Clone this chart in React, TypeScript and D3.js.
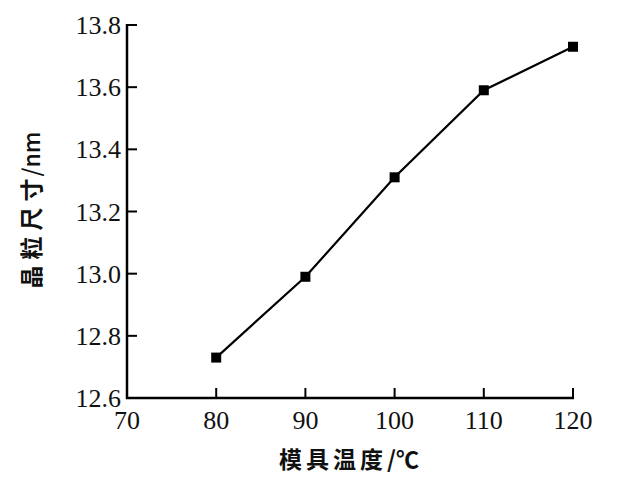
import React from "react";
import * as d3 from "d3";

const temps = [80, 90, 100, 110, 120];
const grainSize = [12.73, 12.99, 13.31, 13.59, 13.73];
const xTicks = [70, 80, 90, 100, 110, 120];
const yTicks = [12.6, 12.8, 13.0, 13.2, 13.4, 13.6, 13.8];
const xLabelCjk = "模具温度";
const xLabelUnit = "/℃";
const yLabelCjk = "晶粒尺寸";
const yLabelUnit = "/nm";

const W = 638;
const H = 484;
const left = 127;
const right = 573;
const top = 25;
const bottom = 398;

export default function App() {
  const x = d3.scaleLinear().domain([70, 120]).range([left, right]);
  const y = d3.scaleLinear().domain([12.6, 13.8]).range([bottom, top]);
  const line = d3
    .line<number>()
    .x((_, i) => x(temps[i]))
    .y((d) => y(d));
  const serifStyle = { fontFamily: "'Liberation Serif', 'DejaVu Serif', serif" };
  const cjkStyle = { fontFamily: "'Noto Sans CJK SC', sans-serif" };
  return (
    <svg
      width={W}
      height={H}
      style={{ position: "absolute", left: 0, top: 0, background: "#fff" }}
    >
      <rect x={0} y={0} width={W} height={H} fill="#fff" />
      <line x1={left} y1={top - 1} x2={left} y2={bottom + 1} stroke="#000" strokeWidth={2.5} />
      <line x1={left - 1} y1={bottom} x2={right + 1} y2={bottom} stroke="#000" strokeWidth={2.5} />
      {yTicks.map((t) => (
        <g key={"y" + t}>
          <line x1={left} x2={left + 10} y1={y(t)} y2={y(t)} stroke="#000" strokeWidth={2} />
          <text
            x={left - 6}
            y={y(t)}
            dy="0.35em"
            textAnchor="end"
            style={serifStyle}
            fontSize={26}
            fill="#111"
          >
            {t.toFixed(1)}
          </text>
        </g>
      ))}
      {xTicks.map((t) => (
        <g key={"x" + t}>
          {t !== 70 && (
            <line x1={x(t)} x2={x(t)} y1={bottom} y2={bottom - 10} stroke="#000" strokeWidth={2} />
          )}
          <text
            x={x(t)}
            y={bottom + 31}
            textAnchor="middle"
            style={serifStyle}
            fontSize={26}
            fill="#111"
          >
            {t}
          </text>
        </g>
      ))}
      <path d={line(grainSize) || ""} fill="none" stroke="#000" strokeWidth={2.2} />
      {grainSize.map((v, i) => (
        <rect
          key={"m" + i}
          x={x(temps[i]) - 5}
          y={y(v) - 5}
          width={10}
          height={10}
          fill="#000"
        />
      ))}
      <text
        x={349}
        y={468}
        textAnchor="middle"
        style={cjkStyle}
        fontWeight={700}
        fontSize={23}
        fill="#111"
      >
        <tspan letterSpacing={4}>{xLabelCjk}</tspan>
        <tspan>{xLabelUnit}</tspan>
      </text>
      <text
        transform={`translate(40, 210) rotate(-90)`}
        textAnchor="middle"
        style={cjkStyle}
        fontWeight={700}
        fontSize={23}
        fill="#111"
      >
        <tspan letterSpacing={6}>{yLabelCjk}</tspan>
        <tspan dx={-4} fontWeight={500}>{yLabelUnit}</tspan>
      </text>
    </svg>
  );
}
